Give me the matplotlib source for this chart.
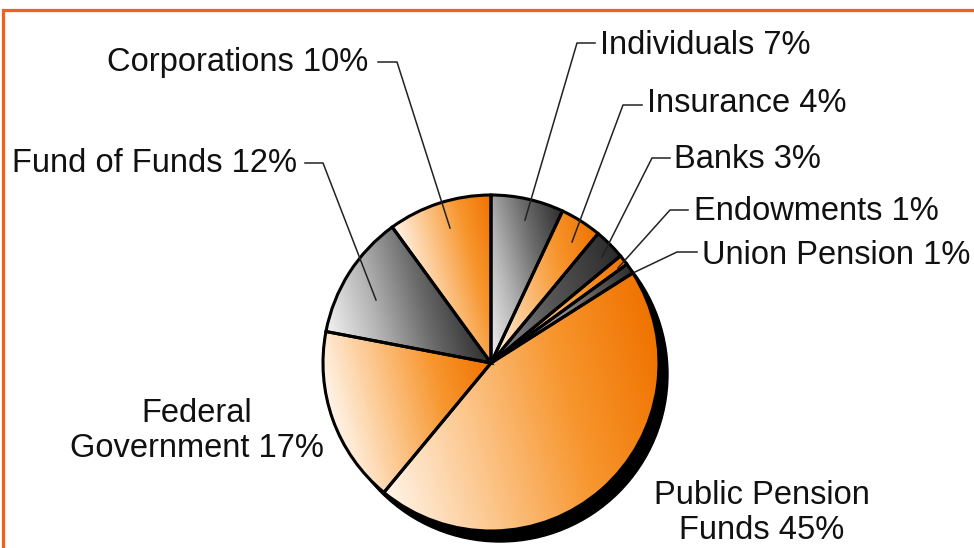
import numpy as np
import matplotlib.pyplot as plt
from matplotlib.colors import LinearSegmentedColormap
from matplotlib.patches import Circle, Rectangle

plt.rcParams['font.family'] = ['Liberation Sans', 'DejaVu Sans']

# Data (clockwise from 12 o'clock)
labels = ['Individuals 7%', 'Insurance 4%', 'Banks 3%', 'Endowments 1%',
          'Union Pension 1%', 'Public Pension\nFunds 45%', 'Federal\nGovernment 17%',
          'Fund of Funds 12%', 'Corporations 10%']
shares = [7, 4, 3, 1, 1, 45, 17, 12, 10]
kinds = ['gray', 'orange', 'darkgray', 'orange', 'gray', 'orange', 'orange', 'gray', 'orange']

W, H = 974, 548
fig = plt.figure(figsize=(W / 100, H / 100), dpi=100)
ax = fig.add_axes([0, 0, 1, 1])

cx, cy, r = 491, H - 363, 168

cmaps = {
    'orange': LinearSegmentedColormap.from_list('o', ['#fff4e8', '#fcc58a', '#f7962e', '#f07300']),
    'gray': LinearSegmentedColormap.from_list('g', ['#f2f2f2', '#b4b4b4', '#6a6a6a', '#2e2e2e']),
    'darkgray': LinearSegmentedColormap.from_list('d', ['#8a8a8a', '#555555', '#2a2a2a']),
}

# drop shadow
ax.add_patch(Circle((cx + 9, cy - 11), r, color='black', zorder=0))

wedges, _ = ax.pie(shares, startangle=90, counterclock=False, center=(cx, cy), radius=r,
                   wedgeprops=dict(edgecolor='black', linewidth=2.2, facecolor='none'))

# gradient fill inside each wedge, light at lower-left, dark at upper-right
ang = np.deg2rad(15)
xs = np.linspace(cx - r, cx + r, 400)
ys = np.linspace(cy - r, cy + r, 400)
X, Y = np.meshgrid(xs, ys)
P = X * np.cos(ang) + Y * np.sin(ang)
for w, k in zip(wedges, kinds):
    w.set_zorder(3)
    t = np.deg2rad(np.linspace(w.theta1, w.theta2, 60))
    vx = np.concatenate([[cx], cx + r * np.cos(t)])
    vy = np.concatenate([[cy], cy + r * np.sin(t)])
    vp = vx * np.cos(ang) + vy * np.sin(ang)
    norm = np.clip((P - vp.min()) / (vp.max() - vp.min()), 0, 1)
    im = ax.imshow(norm, cmap=cmaps[k], origin='lower', extent=(cx - r, cx + r, cy - r, cy + r),
                   vmin=0, vmax=1, zorder=2, interpolation='bilinear')
    im.set_clip_path(w)

# labels with leader lines (pixel coords, y from top)
fs = 23.5
leaders = {
    'Corporations 10%': ([378, 397, 450], [62, 62, 228], 368, 62, 'right'),
    'Fund of Funds 12%': ([305, 323, 376], [163, 163, 300], 297, 163, 'right'),
    'Individuals 7%': ([595, 577, 525], [43, 43, 220], 600, 45, 'left'),
    'Insurance 4%': ([642, 623, 572], [105, 105, 242], 647, 104, 'left'),
    'Banks 3%': ([670, 652, 602], [158, 158, 257], 674, 160, 'left'),
    'Endowments 1%': ([688, 670, 618], [210, 210, 268], 694, 211, 'left'),
    'Union Pension 1%': ([697, 677, 635], [252, 252, 272], 702, 256, 'left'),
}
for lab in labels:
    if lab in leaders:
        lx, ly, tx, ty, ha = leaders[lab]
        ax.plot(lx, [H - v for v in ly], color='#222222', lw=1.1, zorder=4)
        ax.text(tx, H - ty, lab, fontsize=fs, ha=ha, va='center', color='#111111')

ax.text(197, H - 431, labels[6], fontsize=fs, ha='center', va='center',
        linespacing=1.2, color='#111111')
ax.text(762, H - 513, labels[5], fontsize=fs, ha='center', va='center',
        linespacing=1.2, color='#111111')

ax.set_xlim(0, W)
ax.set_ylim(0, H)
ax.set_aspect('auto')
ax.axis('off')

# orange frame (top and left edges visible)
fig.add_artist(Rectangle((3 / W, -0.2), 1.3, 1.2 - 10 / H, transform=fig.transFigure,
                         fill=False, edgecolor='#f2601a', linewidth=2.3))

fig.savefig('out.png', dpi=100)
